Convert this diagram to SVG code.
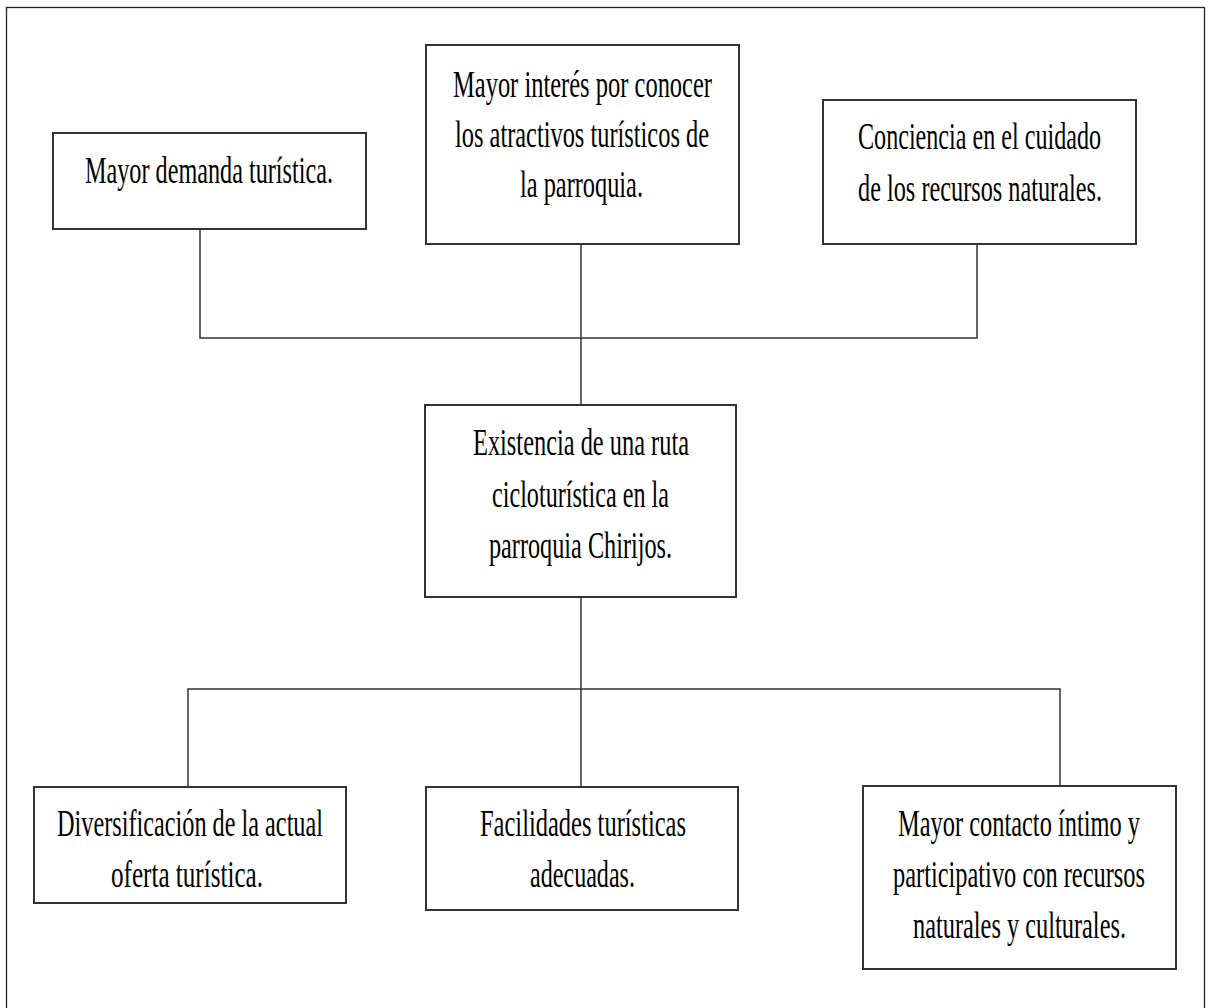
<svg xmlns="http://www.w3.org/2000/svg" width="1211" height="1008" viewBox="0 0 1211 1008">
<style>
.frame{fill:none;stroke:#222;stroke-width:1.3}
.box{fill:#fff;stroke:#333;stroke-width:2}
.conn{fill:none;stroke:#333;stroke-width:1.5}
text{font-family:"Liberation Serif","Times New Roman",serif;font-size:26.5px;fill:#000;text-anchor:middle}
</style>
<rect width="1211" height="1008" fill="#fff"/>
<rect class="frame" x="6.5" y="7.5" width="1198" height="1010"/>
<g id="connectors">
<path class="conn" d="M200 229V338H977V245"/>
<path class="conn" d="M581 245V405"/>
<path class="conn" d="M581 597V787"/>
<path class="conn" d="M188 787V689H1060V787"/>
</g>
<g id="n1">
<rect class="box" x="53" y="133" width="313" height="96"/>
<text transform="translate(209,183) scale(1,1.45)" textLength="248" lengthAdjust="spacingAndGlyphs">Mayor demanda turística.</text>
</g>
<g id="n2">
<rect class="box" x="426" y="45" width="313" height="199"/>
<text transform="translate(582.5,97) scale(1,1.45)" textLength="259" lengthAdjust="spacingAndGlyphs">Mayor interés por conocer</text>
<text transform="translate(582,147) scale(1,1.45)" textLength="254" lengthAdjust="spacingAndGlyphs">los atractivos turísticos de</text>
<text transform="translate(581.5,197) scale(1,1.45)" textLength="123" lengthAdjust="spacingAndGlyphs">la parroquia.</text>
</g>
<g id="n3">
<rect class="box" x="823" y="100" width="313" height="144"/>
<text transform="translate(979.5,149) scale(1,1.45)" textLength="243" lengthAdjust="spacingAndGlyphs">Conciencia en el cuidado</text>
<text transform="translate(980,201) scale(1,1.45)" textLength="244" lengthAdjust="spacingAndGlyphs">de los recursos naturales.</text>
</g>
<g id="n4">
<rect class="box" x="425" y="405" width="311" height="192"/>
<text transform="translate(581,455) scale(1,1.45)" textLength="216" lengthAdjust="spacingAndGlyphs">Existencia de una ruta</text>
<text transform="translate(580.5,507) scale(1,1.45)" textLength="177" lengthAdjust="spacingAndGlyphs">cicloturística en la</text>
<text transform="translate(580.5,558) scale(1,1.45)" textLength="183" lengthAdjust="spacingAndGlyphs">parroquia Chirijos.</text>
</g>
<g id="n5">
<rect class="box" x="34" y="787" width="312" height="116"/>
<text transform="translate(190,836) scale(1,1.45)" textLength="266" lengthAdjust="spacingAndGlyphs">Diversificación de la actual</text>
<text transform="translate(187,887) scale(1,1.45)" textLength="152" lengthAdjust="spacingAndGlyphs">oferta turística.</text>
</g>
<g id="n6">
<rect class="box" x="426" y="787" width="312" height="123"/>
<text transform="translate(583,836) scale(1,1.45)" textLength="206" lengthAdjust="spacingAndGlyphs">Facilidades turísticas</text>
<text transform="translate(582.5,887) scale(1,1.45)" textLength="105" lengthAdjust="spacingAndGlyphs">adecuadas.</text>
</g>
<g id="n7">
<rect class="box" x="863" y="786" width="313" height="183"/>
<text transform="translate(1019,836) scale(1,1.45)" textLength="242" lengthAdjust="spacingAndGlyphs">Mayor contacto íntimo y</text>
<text transform="translate(1019,887) scale(1,1.45)" textLength="252" lengthAdjust="spacingAndGlyphs">participativo con recursos</text>
<text transform="translate(1019.5,938) scale(1,1.45)" textLength="213" lengthAdjust="spacingAndGlyphs">naturales y culturales.</text>
</g>
</svg>
